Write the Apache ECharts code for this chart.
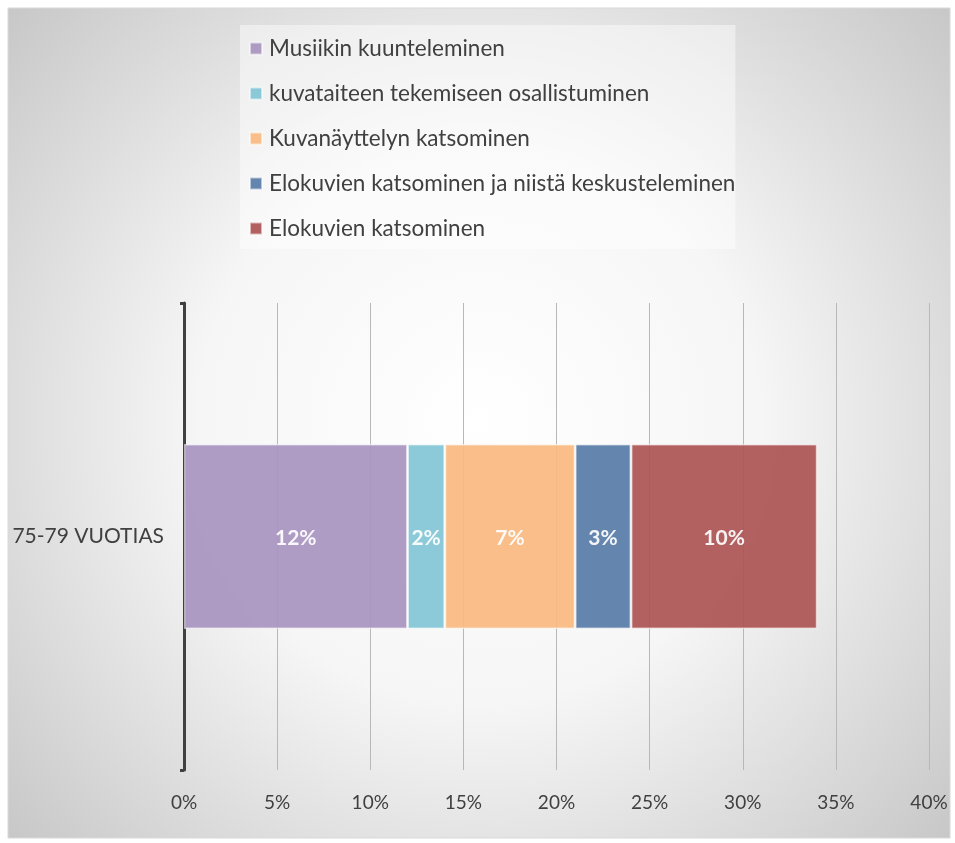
<!DOCTYPE html>
<html><head><meta charset="utf-8">
<script src="https://cdn.jsdelivr.net/npm/echarts@6/dist/echarts.min.js"></script>
<style>html,body{margin:0;padding:0;background:#fff}#c{width:955px;height:843px}</style>
</head><body><div id="c"></div>
<script>
const categories = ['75-79 VUOTIAS'];
const seriesNames = ['Musiikin kuunteleminen','kuvataiteen tekemiseen osallistuminen','Kuvanäyttelyn katsominen','Elokuvien katsominen ja niistä keskusteleminen','Elokuvien katsominen'];
const musiikki = [12];
const kuvataide = [2];
const kuvanayttely = [7];
const elokuvatKeskustelu = [3];
const elokuvat = [10];
const xTicks = [0,5,10,15,20,25,30,35,40];
const colors = ['#A794BF','#82C6D6','#F8B880','#577BA6','#AC5352'];
const values = [musiikki,kuvataide,kuvanayttely,elokuvatKeskustelu,elokuvat];

const chart = echarts.init(document.getElementById('c'));
const font = 'Lato, "Open Sans", sans-serif';
chart.setOption({
  animation:false,
  textStyle:{fontFamily:font},
  graphic:[{type:'rect',z:-10,silent:true,shape:{x:8,y:8,width:942,height:830},
    style:{fill:new echarts.graphic.RadialGradient(0.5,0.5,0.75,[{offset:0,color:'#ffffff'},{offset:0.45,color:'#f6f6f6'},{offset:1,color:'#c8c8c8'}]),stroke:'#d9d9d9',lineWidth:1}}],
  legend:{orient:'vertical',left:240,top:25,padding:[12,0,9,9],itemGap:22,itemWidth:12,itemHeight:12,icon:'rect',
    backgroundColor:'rgba(255,255,255,0.45)',
    textStyle:{fontSize:22.5,color:'#404040',fontFamily:font,padding:[1,0,0,2]},
    data:seriesNames},
  grid:{left:184,right:26,top:303,bottom:73,containLabel:false},
  xAxis:{type:'value',min:0,max:40,interval:5,
    axisLine:{show:false},axisTick:{show:false},
    splitLine:{show:true,lineStyle:{color:'#b8b8b8',width:1}},
    axisLabel:{fontSize:19,color:'#404040',margin:23,formatter:v=>xTicks.includes(v)?v+'%':''}},
  yAxis:{type:'category',data:categories,
    axisLine:{show:true,lineStyle:{color:'#404040',width:3}},
    axisTick:{show:true,length:4,lineStyle:{color:'#404040',width:3}},
    axisLabel:{fontSize:21,color:'#404040',margin:20}},
  series:seriesNames.map((n,i)=>({name:n,type:'bar',stack:'s',barWidth:185,data:values[i],
    itemStyle:{color:colors[i],opacity:0.92,borderColor:'rgba(255,255,255,0.6)',borderWidth:1.5},
    label:{show:true,position:'inside',offset:[0,2],formatter:p=>p.value+'%',color:'#fff',fontWeight:'bold',fontSize:21,fontFamily:font}}))
});
</script></body></html>
